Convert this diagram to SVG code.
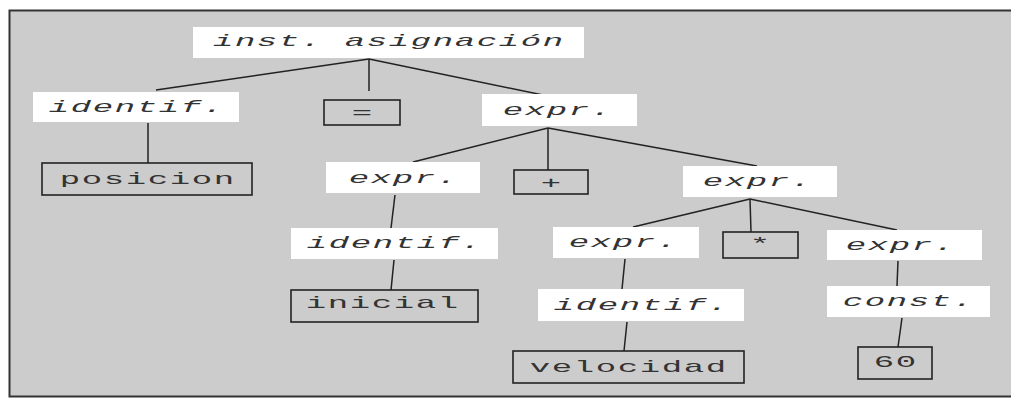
<svg xmlns="http://www.w3.org/2000/svg" width="1011" height="398" viewBox="0 0 1011 398">
<style>
.nt{fill:#ffffff;stroke:none}
.tm{fill:none;stroke:#222;stroke-width:1.6}
text{font-family:"Liberation Mono","DejaVu Sans Mono",monospace;font-size:17px;fill:#333;text-anchor:middle;letter-spacing:0.8px}
.it{font-style:italic}
#connectors line{stroke:#222;stroke-width:1.5}
</style>
<rect x="9.5" y="10.5" width="1010" height="386" fill="#cccccc" stroke="#333" stroke-width="2"/>
<g id="connectors">
<line x1="369" y1="59" x2="156" y2="90"/>
<line x1="369" y1="59" x2="369" y2="91"/>
<line x1="369" y1="59" x2="543" y2="95"/>
<line x1="148" y1="123" x2="148" y2="163"/>
<line x1="548" y1="128" x2="413" y2="162"/>
<line x1="548" y1="128" x2="548" y2="170"/>
<line x1="548" y1="128" x2="757" y2="166"/>
<line x1="395" y1="195" x2="391" y2="228"/>
<line x1="394" y1="260" x2="391" y2="290"/>
<line x1="750" y1="199" x2="633" y2="227"/>
<line x1="750" y1="199" x2="751" y2="232"/>
<line x1="750" y1="199" x2="897" y2="230"/>
<line x1="625" y1="259" x2="622" y2="289"/>
<line x1="627" y1="322" x2="624" y2="351"/>
<line x1="898" y1="261" x2="897" y2="286"/>
<line x1="902" y1="318" x2="898" y2="347"/>
</g>
<g id="n-inst"><rect class="nt" x="193" y="27" width="391" height="31"/><text class="it" transform="translate(388.8 46) scale(2 1)">inst. asignación</text></g>
<g id="n-identif1"><rect class="nt" x="33" y="92" width="206" height="30"/><text class="it" transform="translate(136.8 112) scale(2 1)">identif.</text></g>
<g id="n-eq"><rect class="tm" x="324" y="100" width="76" height="25"/><text transform="translate(362.8 118) scale(2 1)">=</text></g>
<g id="n-expr1"><rect class="nt" x="482" y="94" width="155" height="32"/><text class="it" transform="translate(557.8 115) scale(2 1)">expr.</text></g>
<g id="n-posicion"><rect class="tm" x="42" y="163" width="210" height="32"/><text transform="translate(147.8 184) scale(2 1)">posicion</text></g>
<g id="n-expr2l"><rect class="nt" x="326" y="162" width="154" height="31"/><text class="it" transform="translate(403.8 183) scale(2 1)">expr.</text></g>
<g id="n-plus"><rect class="tm" x="514" y="170" width="74" height="24"/><text transform="translate(551.8 188) scale(2 1)">+</text></g>
<g id="n-expr2r"><rect class="nt" x="683" y="166" width="154" height="31"/><text class="it" transform="translate(757.8 186) scale(2 1)">expr.</text></g>
<g id="n-identif3"><rect class="nt" x="291" y="228" width="207" height="31"/><text class="it" transform="translate(394.8 248) scale(2 1)">identif.</text></g>
<g id="n-expr3l"><rect class="nt" x="553" y="227" width="146" height="31"/><text class="it" transform="translate(623.8 247) scale(2 1)">expr.</text></g>
<g id="n-star"><rect class="tm" x="723" y="232" width="75" height="26"/><text transform="translate(760.8 249) scale(2 1)">*</text></g>
<g id="n-expr3r"><rect class="nt" x="827" y="230" width="155" height="30"/><text class="it" transform="translate(900.8 250) scale(2 1)">expr.</text></g>
<g id="n-inicial"><rect class="tm" x="291" y="290" width="187" height="32"/><text transform="translate(382.8 308) scale(2 1)">inicial</text></g>
<g id="n-identif4"><rect class="nt" x="538" y="289" width="206" height="32"/><text class="it" transform="translate(641.8 310) scale(2 1)">identif.</text></g>
<g id="n-const"><rect class="nt" x="827" y="286" width="163" height="31"/><text class="it" transform="translate(908.8 306) scale(2 1)">const.</text></g>
<g id="n-velocidad"><rect class="tm" x="513" y="351" width="231" height="32"/><text transform="translate(628.8 372) scale(2 1)">velocidad</text></g>
<g id="n-60"><rect class="tm" x="858" y="347" width="74" height="32"/><text transform="translate(895.8 367) scale(2 1)">60</text></g>
</svg>
